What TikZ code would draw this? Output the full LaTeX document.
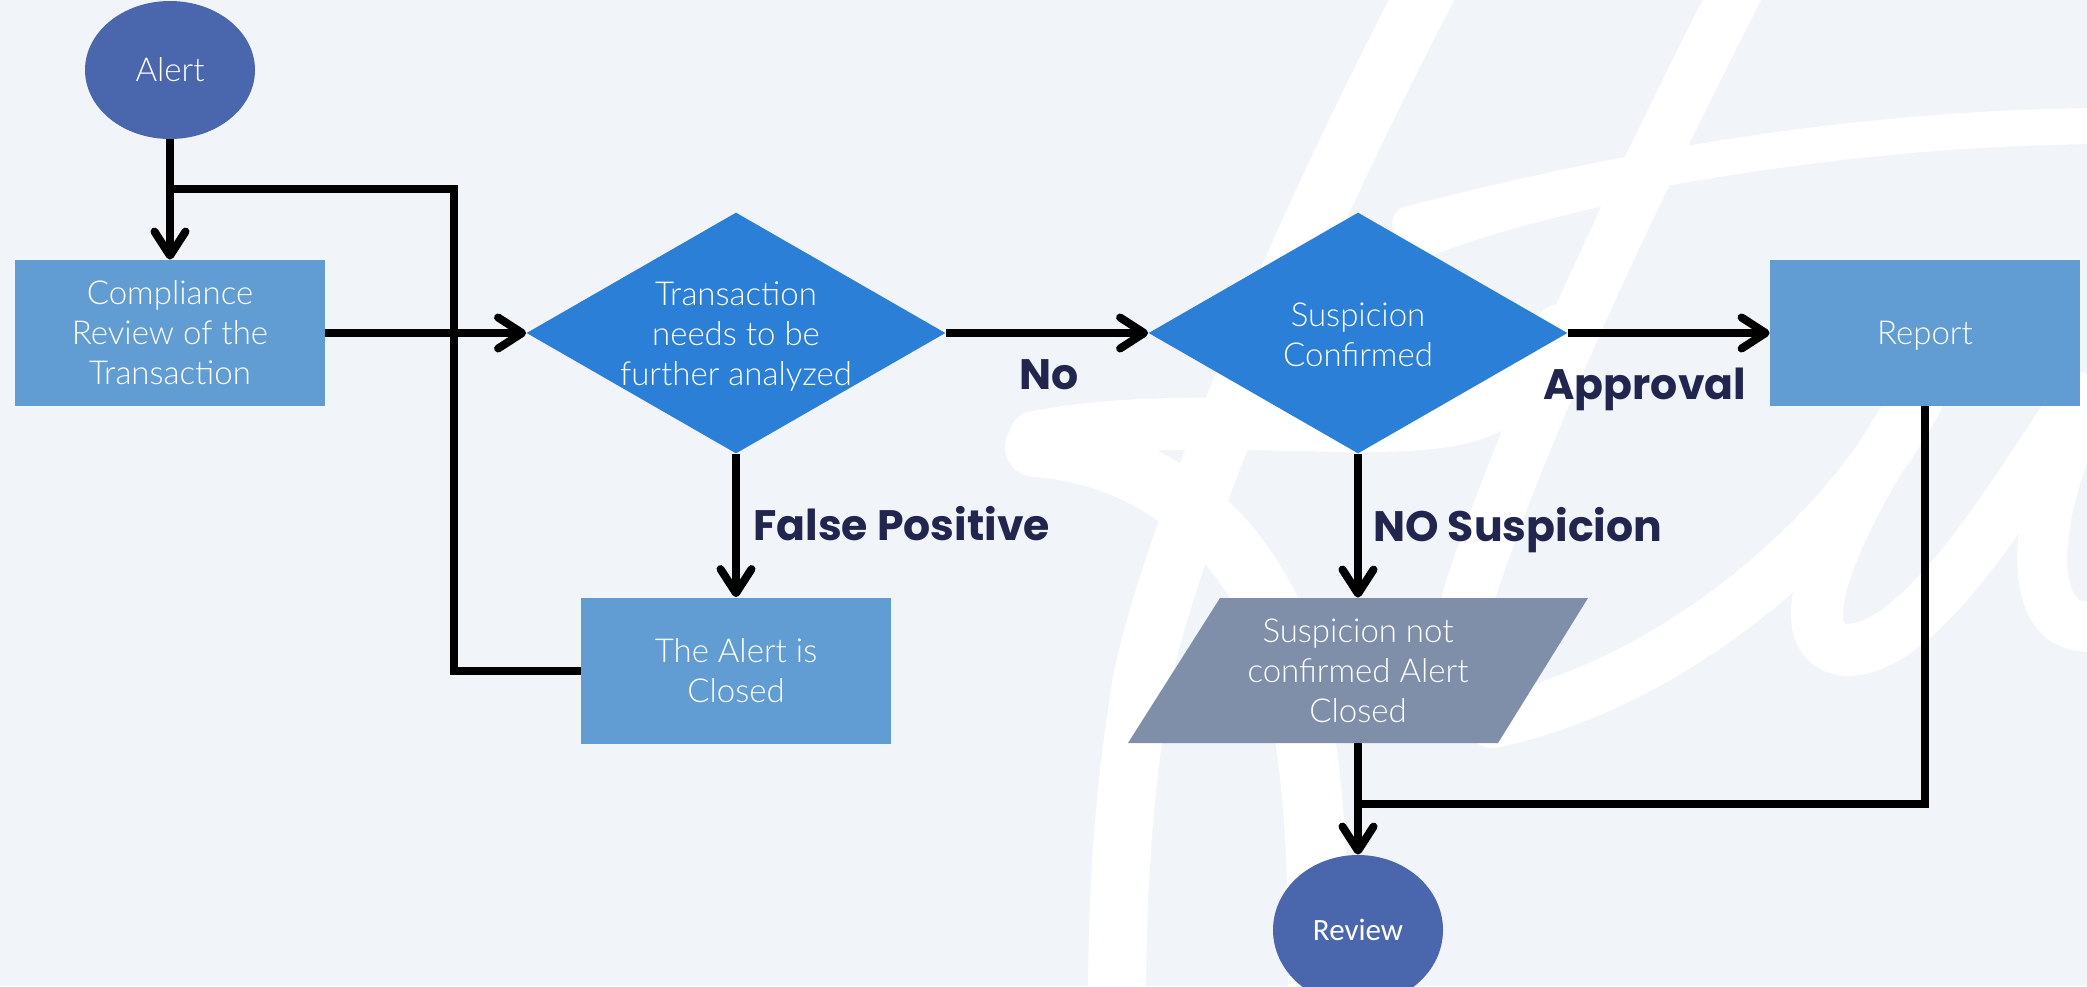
\documentclass[tikz,border=0pt]{standalone}
\usepackage{fontspec}
\setmainfont{Lato Light}
\newfontfamily\lblfont{Poppins}
\newfontfamily\revfont{Carlito}
\usetikzlibrary{arrows.meta,shapes.geometric}

\definecolor{bg}{HTML}{F1F5F9}
\definecolor{ovalc}{HTML}{4A66AC}
\definecolor{boxc}{HTML}{619DD2}
\definecolor{diac}{HTML}{2B7FD6}
\definecolor{parac}{HTML}{7F8FAA}
\definecolor{navy}{HTML}{22264F}

\tikzset{
  txt/.style={text=white, font=\fontsize{16.5}{20}\selectfont, align=center, inner sep=0pt},
  oval/.style={ellipse, fill=ovalc, inner sep=0pt, txt},
  box/.style={rectangle, fill=boxc, minimum width=155pt, minimum height=73pt, inner sep=0pt, txt},
  dia/.style={diamond, fill=diac, minimum width=209.5pt, minimum height=120.5pt, inner sep=0pt},
  conn/.style={line width=4pt, black},
  arr/.style={conn, -{Straight Barb[length=12pt,width=15.5pt,round]}},
  lbl/.style={text=navy, font=\lblfont\bfseries\fontsize{21.3}{25}\selectfont, inner sep=0pt, anchor=base west},
  wm/.style={white, line cap=round, line join=round}
}

\begin{document}
\begin{tikzpicture}[x=0.5pt,y=-0.5pt]
  \fill[bg] (0,0) rectangle (2087,986);
  \useasboundingbox (0,0) rectangle (2087,986);

  % signature watermark in the background
  \begin{scope}
    \clip (0,0) rectangle (2087,986);
    % tall strokes
    \draw[wm, line width=29pt] (1432,-20) .. controls (1300,230) and (1170,540) .. (1142,680)
                               .. controls (1122,800) and (1117,900) .. (1117,1010);
    \draw[wm, line width=26pt] (1742,-20) .. controls (1640,180) and (1525,420) .. (1468,598);
    % upper cross stroke
    \draw[wm, line width=18pt] (2100,126) .. controls (1850,128) and (1620,170) .. (1410,224);
    \draw[wm, line width=10pt] (1650,186) .. controls (1560,204) and (1470,228) .. (1420,250);
    % lower cross stroke with its loop
    \draw[wm, line width=26pt] (1035,437) .. controls (1200,405) and (1400,445) .. (1480,412)
                               .. controls (1520,395) and (1545,370) .. (1560,330);
    \draw[wm, line width=30pt] (1035,447) .. controls (1150,455) and (1250,530) .. (1290,660)
                               .. controls (1315,760) and (1320,880) .. (1318,1010);
    % right-hand letters
    \draw[wm, line width=26pt] (1492,722) .. controls (1650,690) and (1830,560) .. (1918,398)
                               .. controls (1850,500) and (1775,640) .. (1845,650)
                               .. controls (1920,652) and (2010,500) .. (2078,398);
    \draw[wm, line width=25pt] (2092,398) .. controls (2040,480) and (2020,610) .. (2075,625) -- (2110,630);
  \end{scope}

  % flow nodes
  \node[oval, minimum width=85pt, minimum height=69pt] (alert) at (170,70) {Alert};
  \node[box] (comp) at (170,333) {Compliance\\Review of the\\Transaction};
  \node[dia] (d1) at (736,333) {};
  \node[txt] (d1t) at (736,337) {Transaction\\needs to be\\further analyzed};
  \node[box] (closed) at (736,670.5) {The Alert is\\Closed};
  \node[dia] (d2) at (1358,333) {};
  \node[txt] (d2t) at (1358,335) {Suspicion\\Confirmed};
  \node[box] (report) at (1925,333) {\raisebox{0pt}[\height][0pt]{Report}};
  \fill[parac] (1220,598) -- (1588,598) -- (1498,743) -- (1128,743) -- cycle;
  \node[txt, minimum height=72.5pt] (para) at (1358,670.5) {Suspicion not\\confirmed Alert\\Closed};
  \node[oval, minimum width=85pt, minimum height=75pt] (review) at (1358,930) {\revfont\fontsize{15.5}{18}\selectfont Review};

  % connectors
  \coordinate (j1) at (170,189);
  \coordinate (br) at (454,189);
  \coordinate (j2) at (1358,804);
  \draw[arr] (alert) -- (comp);
  \draw[conn] (closed.west) -| (br) -- (j1);
  \draw[arr] (comp) -- (d1);
  \draw[arr] (d1) -- (d2);
  \draw[arr] (d1) -- (closed);
  \draw[arr] (d2) -- (report);
  \draw[arr] (d2) -- (para);
  \draw[arr] (para) -- (review);
  \draw[conn] (report.south) |- (j2);

  % connector labels
  \node[lbl] (lno) at (1019,389) {No};
  \node[lbl] (lfp) at (753,540) {False Positive};
  \node[lbl] (lap) at (1543,399) {Approval};
  \node[lbl] (lns) at (1373,541) {NO Suspicion};
\end{tikzpicture}
\end{document}
